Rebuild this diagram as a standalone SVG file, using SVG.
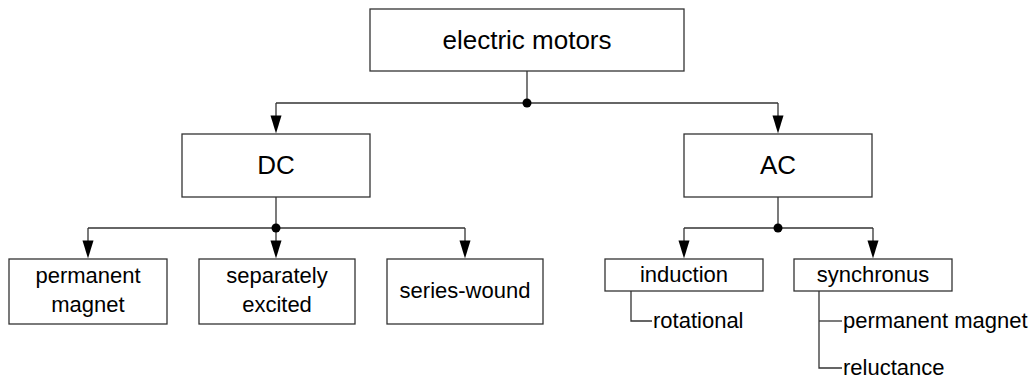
<svg xmlns="http://www.w3.org/2000/svg" xmlns:xlink="http://www.w3.org/1999/xlink" width="1032" height="381" viewBox="0 0 1032 381">
  <style>
    .box { fill: #ffffff; stroke: #333333; stroke-width: 1.3; }
    .wire { fill: none; stroke: #333333; stroke-width: 1.3; }
    .head { fill: #000000; }
    .lbl { font-family: "Liberation Sans", Arial, sans-serif; fill: #000000; }
    .big { font-size: 26px; text-anchor: middle; }
    .mid { font-size: 22px; text-anchor: middle; }
    .leaf { font-size: 22px; text-anchor: start; }
  </style>
  <defs>
    <!-- downward arrowhead, tip at origin -->
    <path id="head" class="head" d="M-5.5,-18 L5.5,-18 L0,0 Z"/>
  </defs>
  <rect width="1032" height="381" fill="#ffffff"/>

  <!-- connectors -->
  <g id="connectors">
    <!-- root to DC / AC -->
    <path class="wire" d="M527,71 V103"/>
    <path class="wire" d="M276,103 H778"/>
    <path class="wire" d="M276,103 V120"/>
    <path class="wire" d="M778,103 V120"/>
    <use xlink:href="#head" href="#head" x="276" y="133.5"/>
    <use xlink:href="#head" href="#head" x="778" y="133.5"/>
    <circle cx="527" cy="103" r="4.5" fill="#000000"/>

    <!-- DC children -->
    <path class="wire" d="M276,197 V228"/>
    <path class="wire" d="M88,228 H465"/>
    <path class="wire" d="M88,228 V245"/>
    <path class="wire" d="M276,228 V245"/>
    <path class="wire" d="M465,228 V245"/>
    <use xlink:href="#head" href="#head" x="88" y="258.5"/>
    <use xlink:href="#head" href="#head" x="276" y="258.5"/>
    <use xlink:href="#head" href="#head" x="465" y="258.5"/>
    <circle cx="276" cy="228" r="4.5" fill="#000000"/>

    <!-- AC children -->
    <path class="wire" d="M778,197 V228"/>
    <path class="wire" d="M684,228 H873"/>
    <path class="wire" d="M684,228 V245"/>
    <path class="wire" d="M873,228 V245"/>
    <use xlink:href="#head" href="#head" x="684" y="258.5"/>
    <use xlink:href="#head" href="#head" x="873" y="258.5"/>
    <circle cx="778" cy="228" r="4.5" fill="#000000"/>

    <!-- sub-type brackets -->
    <path class="wire" d="M631,291 V321 H652"/>
    <path class="wire" d="M819,291 V368 H842"/>
    <path class="wire" d="M819,321 H842"/>
  </g>

  <g id="electric-motors">
    <rect class="box" x="370" y="9" width="314" height="62"/>
    <text class="lbl big" x="527" y="49">electric motors</text>
  </g>

  <g id="dc">
    <rect class="box" x="182" y="134" width="188" height="63"/>
    <text class="lbl big" x="276" y="174">DC</text>
  </g>

  <g id="ac">
    <rect class="box" x="684" y="134" width="188" height="63"/>
    <text class="lbl big" x="778" y="174">AC</text>
  </g>

  <g id="permanent-magnet">
    <rect class="box" x="9" y="259" width="158" height="65"/>
    <text class="lbl mid" x="88" y="283">permanent</text>
    <text class="lbl mid" x="88" y="312">magnet</text>
  </g>

  <g id="separately-excited">
    <rect class="box" x="199" y="259" width="156" height="65"/>
    <text class="lbl mid" x="277" y="283">separately</text>
    <text class="lbl mid" x="277" y="312">excited</text>
  </g>

  <g id="series-wound">
    <rect class="box" x="387" y="259" width="156" height="65"/>
    <text class="lbl mid" x="465" y="298">series-wound</text>
  </g>

  <g id="induction">
    <rect class="box" x="605" y="259" width="158" height="32"/>
    <text class="lbl mid" x="684" y="282">induction</text>
  </g>

  <g id="synchronus">
    <rect class="box" x="794" y="259" width="158" height="32"/>
    <text class="lbl mid" x="873" y="282">synchronus</text>
  </g>

  <g id="rotational">
    <text class="lbl leaf" x="653" y="328">rotational</text>
  </g>

  <g id="sync-permanent-magnet">
    <text class="lbl leaf" x="843" y="328">permanent magnet</text>
  </g>

  <g id="reluctance">
    <text class="lbl leaf" x="843" y="375">reluctance</text>
  </g>
</svg>
